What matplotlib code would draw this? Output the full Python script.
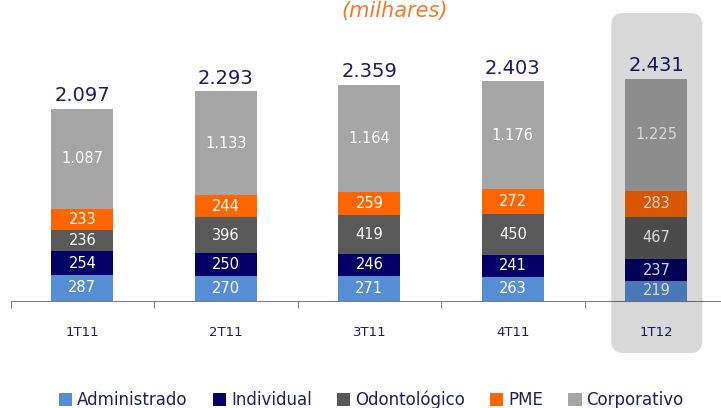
import matplotlib
matplotlib.use("Agg")
import matplotlib.pyplot as plt
import numpy as np
from matplotlib.patches import FancyBboxPatch
from matplotlib.transforms import IdentityTransform

categories = ["1T11", "2T11", "3T11", "4T11", "1T12"]
administrado = [287, 270, 271, 263, 219]
individual = [254, 250, 246, 241, 237]
odontologico = [236, 396, 419, 450, 467]
pme = [233, 244, 259, 272, 283]
corporativo = [1087, 1133, 1164, 1176, 1225]
totals = ["2.097", "2.293", "2.359", "2.403", "2.431"]

series = [
    ("Administrado", administrado, "#558ed5"),
    ("Individual", individual, "#000066"),
    ("Odontológico", odontologico, "#595959"),
    ("PME", pme, "#ff6600"),
    ("Corporativo", corporativo, "#a6a6a6"),
]

navy = "#1a1a66"

def fmt(v):
    return f"{v:,}".replace(",", ".")

fig = plt.figure(figsize=(7.21, 4.08), dpi=100)
ax = fig.add_axes([10.6 / 721, 107 / 408, 5 * 143.5 / 721, 274.5 / 408])

x = np.arange(len(categories))
bottom = np.zeros(len(categories))
for name, vals, col in series:
    vals = np.array(vals)
    ax.bar(x, vals, 0.43, bottom=bottom, color=col, label=name, zorder=2)
    for xi, b, v in zip(x, bottom, vals):
        ax.text(xi, b + v / 2, fmt(v), ha="center", va="center",
                color="white", fontsize=10.5, zorder=3)
    bottom += vals

for xi, top, t in zip(x, bottom, totals):
    ax.text(xi, top + 40, t, ha="center", va="bottom", color=navy,
            fontsize=14, zorder=3)

ax.set_xlim(-0.5, len(categories) - 0.5)
ax.set_ylim(0, 3000)
ax.set_xticks(np.arange(-0.5, len(categories), 1))
ax.set_xticklabels([])
ax.set_xticks(x, minor=True)
ax.set_xticklabels(categories, minor=True)
ax.tick_params(axis="x", which="major", length=5, color="#808080", direction="out")
ax.tick_params(axis="x", which="minor", length=0, pad=18, labelsize=9.5,
               labelcolor=navy)
ax.set_yticks([])
for s in ["top", "right", "left"]:
    ax.spines[s].set_visible(False)
ax.spines["bottom"].set_color("#808080")

# highlight box around last quarter
fig.canvas.draw()
cx, cy = ax.transData.transform((x[-1], 0))
box = FancyBboxPatch((cx - 45 + 12, 408 - 353 + 12), 91 - 24, 340 - 24,
                     boxstyle="round,pad=12", transform=IdentityTransform(),
                     facecolor="black", alpha=0.15, edgecolor="none",
                     zorder=10)
fig.patches.append(box)

fig.text(395 / 721, 1 - 11 / 408, "(milhares)", ha="center", va="center",
         color="#f5792a", fontsize=15, style="italic")

fig.legend(loc="center", bbox_to_anchor=(0.515, 8 / 408), ncol=5, frameon=False,
           fontsize=12, handlelength=0.8, handleheight=0.8, handletextpad=0.3,
           columnspacing=1.5, labelcolor="#1f1f5f")

fig.savefig("out.png", dpi=100)
